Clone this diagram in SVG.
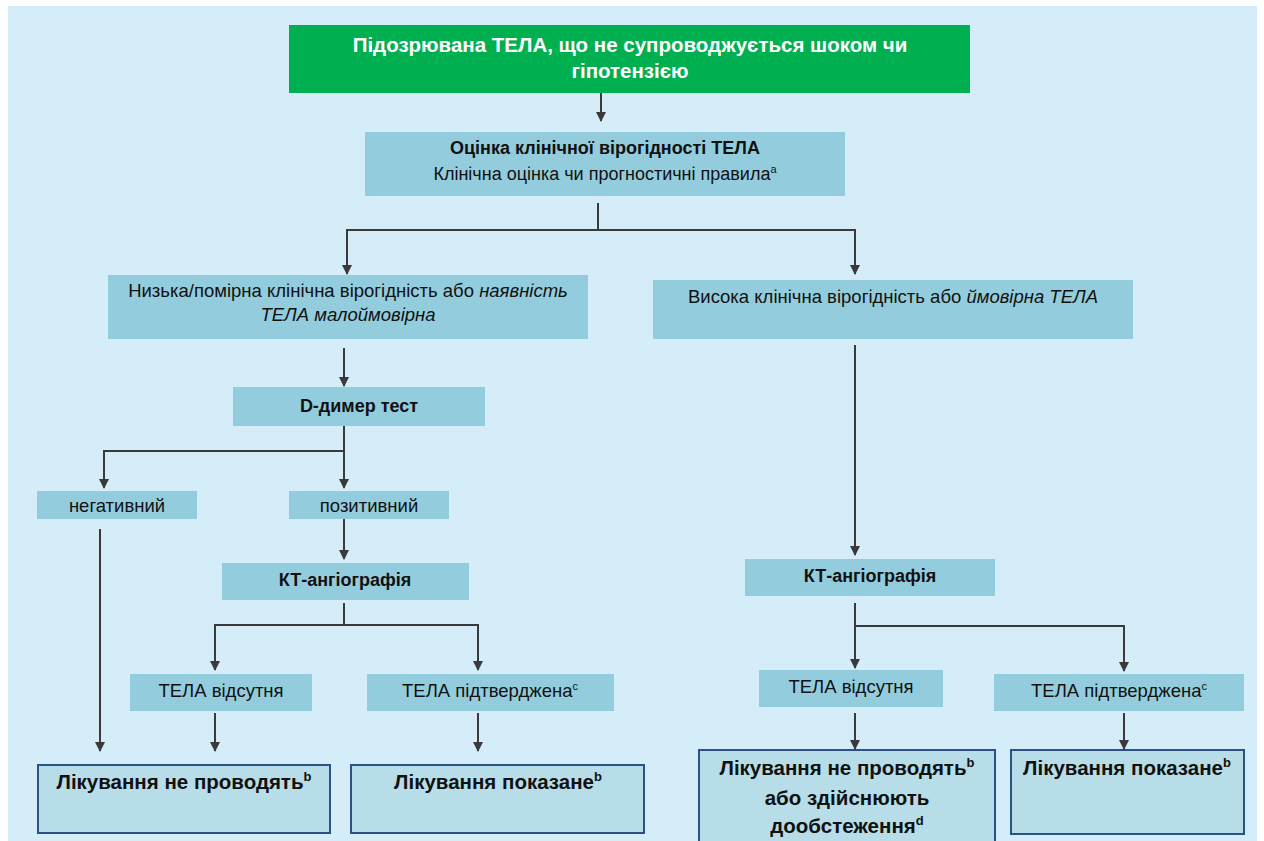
<svg xmlns="http://www.w3.org/2000/svg" width="1264" height="841" viewBox="0 0 1264 841">
<defs>
<marker id="ah" markerUnits="userSpaceOnUse" markerWidth="10" markerHeight="10" refX="9" refY="5" orient="auto">
<path d="M0,0 L10,5 L0,10 z" fill="#3a3a3a"/>
</marker>
<style>
.bg{fill:#D5EDF9}
.n{fill:#93CDDD}
.g{fill:#00B050}
.f{fill:#B7DEE8;stroke:#2B5287;stroke-width:2}
.t{font-family:"Liberation Sans",Arial,sans-serif;fill:#111;text-anchor:middle}
.r{font-size:18.5px}
.s{font-size:18px}
.b{font-weight:bold}
.k{font-size:20.5px;font-weight:bold}
.w{fill:#fff;font-size:20.5px;font-weight:bold}
.c{fill:none;stroke:#3a3a3a;stroke-width:2;marker-end:url(#ah)}
.l{fill:none;stroke:#3a3a3a;stroke-width:2}
</style>
</defs>
<rect class="bg" x="8" y="6" width="1249" height="835"/>

<g id="start">
<rect class="g" x="289" y="25" width="681" height="68"/>
<text class="t w" x="630" y="52">Підозрювана ТЕЛА, що не супроводжується шоком чи</text>
<text class="t w" x="630" y="78">гіпотензією</text>
</g>

<g id="assess">
<rect class="n" x="365" y="132" width="480" height="64"/>
<text class="t s b" x="605" y="154">Оцінка клінічної вірогідності ТЕЛА</text>
<text class="t s" x="605" y="180">Клінічна оцінка чи прогностичні правила<tspan font-size="11" dy="-7">a</tspan></text>
</g>

<g id="low">
<rect class="n" x="108" y="275" width="480" height="64"/>
<text class="t r" x="348" y="297">Низька/помірна клінічна вірогідність або <tspan font-style="italic">наявність</tspan></text>
<text class="t r" x="348" y="321" font-style="italic">ТЕЛА малоймовірна</text>
</g>

<g id="high">
<rect class="n" x="653" y="280" width="480" height="59"/>
<text class="t r" x="893" y="303">Висока клінічна вірогідність або <tspan font-style="italic">ймовірна ТЕЛА</tspan></text>
</g>

<g id="ddimer">
<rect class="n" x="233" y="387" width="252" height="39"/>
<text class="t s b" x="359" y="412">D-димер тест</text>
</g>

<g id="neg">
<rect class="n" x="37" y="491" width="160" height="28"/>
<text class="t r" x="117" y="512">негативний</text>
</g>

<g id="pos">
<rect class="n" x="289" y="491" width="160" height="28"/>
<text class="t r" x="369" y="512">позитивний</text>
</g>

<g id="ct1">
<rect class="n" x="222" y="563" width="247" height="37"/>
<text class="t s b" x="345" y="586">КТ-ангіографія</text>
</g>

<g id="absent1">
<rect class="n" x="130" y="674" width="182" height="37"/>
<text class="t r" x="221" y="697">ТЕЛА відсутня</text>
</g>

<g id="conf1">
<rect class="n" x="367" y="674" width="247" height="37"/>
<text class="t r" x="490" y="697">ТЕЛА підтверджена<tspan font-size="11" dy="-7">c</tspan></text>
</g>

<g id="notreat1">
<rect class="f" x="38" y="765" width="292" height="68"/>
<text class="t k" x="184" y="789">Лікування не проводять<tspan font-size="13" dy="-8">b</tspan></text>
</g>

<g id="treat1">
<rect class="f" x="351" y="765" width="293" height="68"/>
<text class="t k" x="498" y="789">Лікування показане<tspan font-size="13" dy="-8">b</tspan></text>
</g>

<g id="ct2">
<rect class="n" x="745" y="559" width="250" height="37"/>
<text class="t s b" x="870" y="582">КТ-ангіографія</text>
</g>

<g id="absent2">
<rect class="n" x="759" y="670" width="184" height="37"/>
<text class="t r" x="851" y="693">ТЕЛА відсутня</text>
</g>

<g id="conf2">
<rect class="n" x="994" y="674" width="250" height="37"/>
<text class="t r" x="1119" y="697">ТЕЛА підтверджена<tspan font-size="11" dy="-7">c</tspan></text>
</g>

<g id="notreat2">
<rect class="f" x="699" y="750" width="296" height="100"/>
<text class="t k" x="847" y="775">Лікування не проводять<tspan font-size="13" dy="-8">b</tspan></text>
<text class="t k" x="847" y="805">або здійснюють</text>
<text class="t k" x="847" y="833">дообстеження<tspan font-size="13" dy="-8">d</tspan></text>
</g>

<g id="treat2">
<rect class="f" x="1011" y="750" width="233" height="84"/>
<text class="t k" x="1127" y="775">Лікування показане<tspan font-size="13" dy="-8">b</tspan></text>
</g>

<g id="connectors">
<path class="c" d="M601,93 V121"/>
<path class="l" d="M598,203 V230"/>
<path class="c" d="M598,230 H347 V274"/>
<path class="c" d="M598,230 H855 V274"/>
<path class="c" d="M344,348 V386"/>
<path class="l" d="M344,426 V451"/>
<path class="c" d="M344,451 H104 V488"/>
<path class="c" d="M344,451 V488"/>
<path class="c" d="M100,529 V751"/>
<path class="c" d="M344,519 V559"/>
<path class="l" d="M344,603 V625"/>
<path class="c" d="M344,625 H215 V670"/>
<path class="c" d="M344,625 H478 V670"/>
<path class="c" d="M215,713 V751"/>
<path class="c" d="M478,713 V751"/>
<path class="c" d="M855,345 V555"/>
<path class="c" d="M855,603 V668"/>
<path class="c" d="M855,626 H1124 V671"/>
<path class="c" d="M855,713 V749"/>
<path class="c" d="M1124,713 V749"/>
</g>
</svg>
